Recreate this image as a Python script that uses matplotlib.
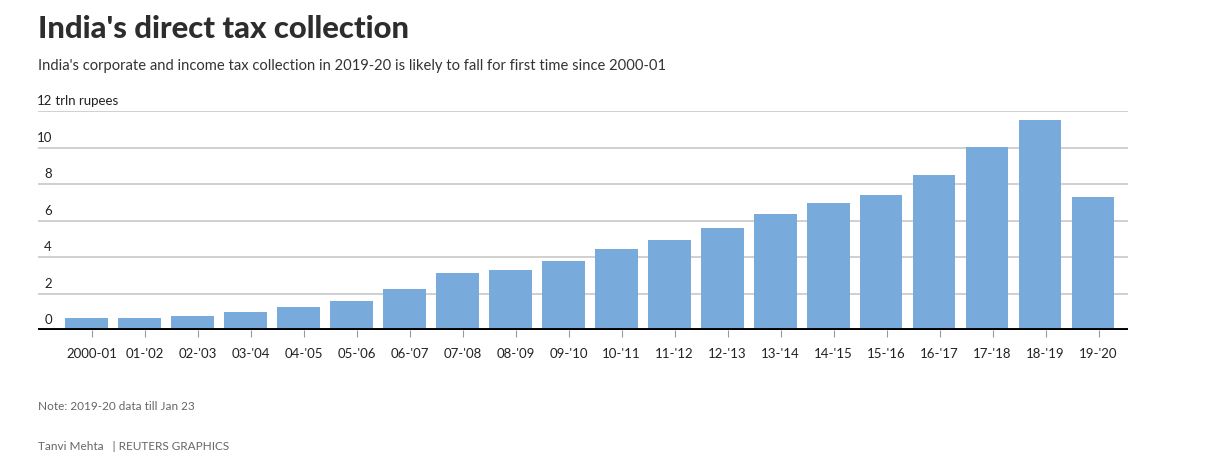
import matplotlib.pyplot as plt
import matplotlib.transforms as mtransforms

plt.rcParams['font.family'] = ['Lato', 'DejaVu Sans']

years = ["2000-01", "01-'02", "02-'03", "03-'04", "04-'05", "05-'06", "06-'07",
         "07-'08", "08-'09", "09-'10", "10-'11", "11-'12", "12-'13", "13-'14",
         "14-'15", "15-'16", "16-'17", "17-'18", "18-'19", "19-'20"]
tax = [0.64, 0.65, 0.79, 1.0, 1.28, 1.61, 2.27, 3.1, 3.31, 3.76,
       4.44, 4.91, 5.57, 6.37, 6.94, 7.40, 8.49, 10.01, 11.51, 7.29]
yticks = [0, 2, 4, 6, 8, 10, 12]

fig = plt.figure(figsize=(12.25, 4.62), dpi=100)
ax = fig.add_axes([0.031, 0.2857, 0.890, 0.4740])

x = list(range(len(years)))
ax.bar(x, tax, width=0.8, color='#78aadb', zorder=2)

ax.set_xlim(-0.915, 19.66)
ax.set_ylim(0, 12)

# gridlines
for v in yticks[1:]:
    ax.axhline(v, color='#c8c8c8', lw=1.2, zorder=1)
ax.axhline(0, color='black', lw=2.8, zorder=3)

# y labels sit above the gridlines
trans = mtransforms.blended_transform_factory(fig.transFigure, ax.transData)
for v in yticks:
    ax.text(52 / 1225, v + 0.2, str(v), transform=trans, ha='right', va='bottom',
            fontsize=9.5, color='#222222')
ax.text(52 / 1225, 12 + 0.2, " trln rupees", transform=trans, ha='left', va='bottom',
        fontsize=9.5, color='#222222')
ax.set_yticks([])

ax.set_xticks([i + 0.1 for i in x])
ax.set_xticklabels(years, fontsize=9.5, color='#222222')
ax.tick_params(axis='x', length=5, color='#999999', width=0.8, pad=8)

for s in ax.spines.values():
    s.set_visible(False)

fig.text(38 / 1225, 1 - 38.5 / 462, "India's direct tax collection", fontsize=22.3,
         fontweight='black', color='#2d2d2d', va='baseline', ha='left')
fig.text(38 / 1225, 1 - 70 / 462,
         "India's corporate and income tax collection in 2019-20 is likely to fall for first time since 2000-01",
         fontsize=10.6, color='#333333', va='baseline', ha='left')
fig.text(38 / 1225, 1 - 407 / 462, "Note: 2019-20 data till Jan 23", fontsize=8.5,
         color='#666666', va='center', ha='left')
fig.text(38 / 1225, 1 - 446 / 462, "Tanvi Mehta   | REUTERS GRAPHICS", fontsize=8.5,
         color='#666666', va='center', ha='left')

fig.savefig('out.png', dpi=100)
